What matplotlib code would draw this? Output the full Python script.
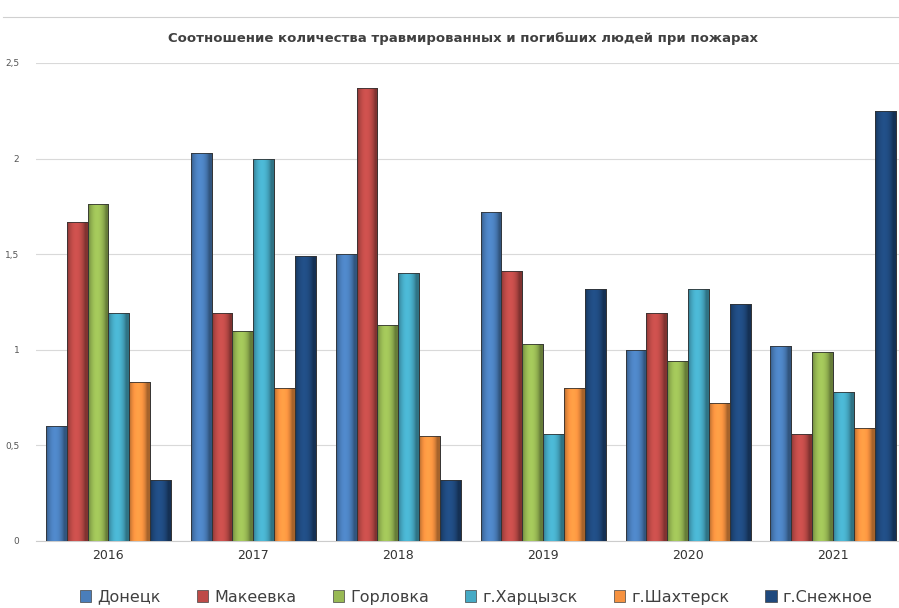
import numpy as np
import matplotlib.pyplot as plt
from matplotlib.lines import Line2D

years = ['2016', '2017', '2018', '2019', '2020', '2021']
cities = ['Донецк', 'Макеевка', 'Горловка', 'г.Харцызск', 'г.Шахтерск', 'г.Снежное']

donetsk = [0.60, 2.03, 1.50, 1.72, 1.00, 1.02]
makeevka = [1.67, 1.19, 2.37, 1.41, 1.19, 0.56]
gorlovka = [1.76, 1.10, 1.13, 1.03, 0.94, 0.99]
khartsyzsk = [1.19, 2.00, 1.40, 0.56, 1.32, 0.78]
shakhtersk = [0.83, 0.80, 0.55, 0.80, 0.72, 0.59]
snezhnoe = [0.32, 1.49, 0.32, 1.32, 1.24, 2.25]

series = [donetsk, makeevka, gorlovka, khartsyzsk, shakhtersk, snezhnoe]
colors = ['#4A7EBB', '#BE4B48', '#98B954', '#46AAC5', '#F69240', '#1F497D']

fig = plt.figure(figsize=(8.99, 6.08), dpi=100)
ax = fig.add_axes([0.040, 0.1102, 0.960, 0.7862])

x = np.arange(len(years))
w = 0.144


def shade(color, n=40):
    ''' horizontal gradient so the bars look like Excel cylinders '''
    rgb = np.array(plt.matplotlib.colors.to_rgb(color))
    t = np.linspace(0, 1, n)
    f = 0.68 + 0.42 * np.sin(np.pi * np.clip(t * 1.15, 0, 1)) ** 0.7
    img = np.clip(rgb[None, :] * f[:, None], 0, 1)
    return img[None, :, :]


for i, (vals, c) in enumerate(zip(series, colors)):
    pos = x - 2.5 * w + i * w
    bars = ax.bar(pos, vals, w, color=c, edgecolor='#3a3a3a', linewidth=0.6,
                  zorder=2, label=cities[i])
    for b in bars:
        im = ax.imshow(shade(c), extent=[b.get_x(), b.get_x() + b.get_width(), 0, b.get_height()],
                       aspect='auto', zorder=3, interpolation='bilinear')
        im.set_clip_path(b)
        b2 = plt.Rectangle((b.get_x(), 0), b.get_width(), b.get_height(), fill=False,
                           edgecolor='#333333', linewidth=0.6, zorder=4)
        ax.add_patch(b2)

ax.set_xlim(-0.5, 5.455)
ax.set_ylim(0, 2.5)
ax.set_yticks([0, 0.5, 1, 1.5, 2, 2.5])
ax.set_yticklabels(['0', '0,5', '1', '1,5', '2', '2,5'], fontsize=6.5, color='#555555')
ax.set_xticks(x)
ax.set_xticklabels(years, fontsize=9, color='#333333')
ax.tick_params(length=0)
ax.tick_params(axis='y', pad=12)
ax.tick_params(axis='x', pad=6)
ax.grid(axis='y', color='#d9d9d9', linewidth=0.8, zorder=0)
ax.set_axisbelow(True)
for s in ['top', 'right', 'left']:
    ax.spines[s].set_visible(False)
ax.spines['bottom'].set_color('#cccccc')

fig.text(0.515, 0.937, 'Соотношение количества травмированных и погибших людей при пожарах',
         ha='center', va='center', fontsize=9.5, fontweight='bold', color='#404040')
fig.add_artist(Line2D([0.003, 1.0], [0.972, 0.972], color='#d0d0d0', linewidth=0.8))

handles = [plt.Rectangle((0, 0), 1, 1, facecolor=c, edgecolor='#444444', linewidth=0.5)
           for c in colors]
fig.legend(handles, cities, loc='lower center', bbox_to_anchor=(0.53, -0.018), ncol=6,
           frameon=False, fontsize=11.5, handlelength=0.7, handleheight=0.7,
           handletextpad=0.4, columnspacing=2.25, labelcolor='#404040')

fig.savefig('out.png', dpi=100)
